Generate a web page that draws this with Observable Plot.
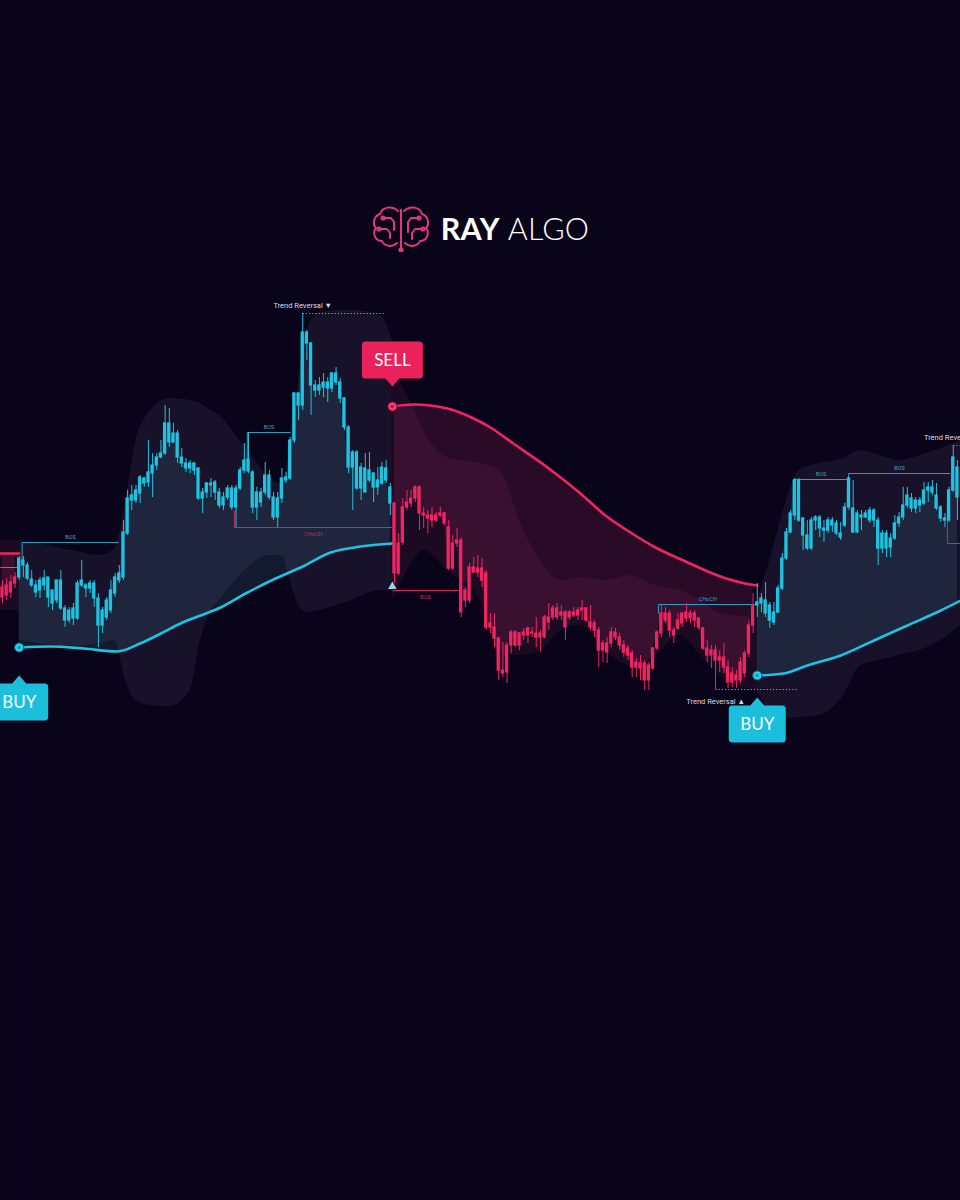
<!DOCTYPE html>
<html>
<head>
<meta charset="utf-8">
<script src="https://cdn.jsdelivr.net/npm/d3@7"></script>
<script src="https://cdn.jsdelivr.net/npm/@observablehq/plot@0.6"></script>
<style>
  html, body { margin: 0; padding: 0; background: #090419; overflow: hidden; }
  #header { height: 260px; position: relative; }
  #logo { position: absolute; top: 204px; left: 0; width: 960px; display: flex; justify-content: center; align-items: center; gap: 10px; }
  #logo .word { font-family: Lato, "Open Sans", sans-serif; font-size: 30.5px; color: #ffffff; line-height: 1; letter-spacing: 0.2px; margin-top: 1px; }
  #logo .b { font-weight: 700; }
  #logo .l { font-weight: 300; }
</style>
</head>
<body>
<div id="header">
  <div id="logo">
    <svg width="60" height="48" viewBox="0 0 60 48" fill="none" stroke="#e2387c" stroke-width="2" stroke-linecap="round" stroke-linejoin="round">
      <path d="M27 7 C21 1 11 3 9 10 C3 12 1 20 5 24 C1 29 4 37 11 37 C13 42 21 44 26 39"/>
      <path d="M33 7 C39 1 49 3 51 10 C57 12 59 20 55 24 C59 29 56 37 49 37 C47 42 39 44 34 39"/>
      <path d="M30 6 V46"/>
      <path d="M13 14 H20 L23 18 V26"/><circle cx="12" cy="14" r="1.6"/>
      <path d="M9 25 H16 L19 29 V34"/><circle cx="8" cy="25" r="1.6"/>
      <path d="M47 14 H40 L37 18 V28"/><circle cx="48" cy="14" r="1.6"/>
      <path d="M51 25 H44 L41 29 V35"/><circle cx="52" cy="25" r="1.6"/>
      <circle cx="30" cy="46" r="1.6"/>
    </svg>
    <div class="word"><span class="b">RAY</span> <span class="l">ALGO</span></div>
  </div>
</div>
<div id="chart"></div>
<script>
// ---------------- DATA (price units) ----------------
const opens = [
403,405,408,417,423,440,435,421,415,410,
415,423,410,400,420,392,380,382,382,415,
415,412,417,402,375,383,390,407,420,423,
467,500,500,507,522,518,527,535,543,547,
577,558,567,543,537,532,537,532,502,508,
517,518,508,495,503,512,493,512,530,529,
528,493,508,508,525,503,483,502,520,522,
560,607,595,668,657,615,610,613,618,612,
627,618,602,573,533,548,512,532,520,527,
513,517,532,513,497,427,458,493,497,502,
513,487,485,485,480,485,487,473,432,457,
460,400,400,433,428,432,427,373,373,362,
330,328,355,368,355,365,365,368,367,363,
363,383,383,392,388,388,383,388,385,390,
392,378,377,370,350,357,357,368,363,355,
352,347,333,337,337,320,332,352,367,387,
387,370,372,377,382,387,387,382,372,352,
345,350,340,343,333,318,325,320,327,347,
375,395,397,400,395,378,388,412,442,468,
485,520,482,465,452,480,483,472,470,480,
477,467,475,493,492,468,485,483,490,480,
480,452,467,453,462,477,483,495,502,492,
500,497,510,513,505,493,482,480,510,533];
const closes = [
413,415,418,423,442,435,422,415,408,420,
422,403,397,420,392,380,390,392,417,420,
412,417,402,375,390,400,410,423,427,468,
502,505,510,523,517,528,535,543,547,577,
558,567,543,537,532,537,530,502,508,517,
515,508,495,503,512,493,512,530,540,541,
493,508,498,525,503,483,502,522,523,560,
607,595,668,657,615,610,615,618,612,627,
618,602,573,533,548,512,533,508,530,513,
520,533,520,497,427,457,493,498,502,513,
487,485,482,480,485,487,477,432,457,460,
388,410,433,428,432,420,373,377,362,330,
327,355,368,355,367,368,372,367,363,367,
383,378,392,383,385,373,388,385,390,392,
380,373,370,350,357,348,368,363,355,348,
345,333,338,332,320,335,352,368,387,380,
370,365,380,387,388,382,380,373,352,345,
350,340,343,333,318,327,320,338,347,375,
395,398,402,387,380,388,412,442,468,487,
520,480,465,452,480,483,472,470,480,475,
467,463,493,522,468,487,483,487,480,490,
452,467,452,462,477,483,495,505,492,500,
495,510,513,508,492,482,480,510,543,503];
const highs = [
420,422,425,428,444,444,438,430,420,423,
430,423,410,420,430,395,393,397,420,440,
417,420,420,407,393,403,420,427,435,480,
510,515,515,525,523,560,547,547,560,595,
592,577,570,552,542,540,538,533,512,518,
522,520,512,508,515,515,515,533,557,568,
530,513,512,538,530,508,508,532,528,563,
608,608,687,670,658,620,623,627,623,628,
633,622,603,575,550,550,537,547,548,528,
533,538,540,517,498,467,502,510,510,515,
515,493,490,493,488,493,488,480,465,472,
463,413,437,443,445,442,430,387,387,363,
358,358,370,370,368,372,373,373,383,370,
385,397,395,397,395,390,390,393,393,400,
393,395,380,373,360,363,373,372,367,360,
355,350,342,345,340,338,353,370,395,393,
390,373,387,388,397,390,390,383,373,360,
355,355,350,357,340,333,330,343,350,380,
407,417,407,418,398,398,415,447,472,490,
522,522,483,480,483,485,485,480,483,483,
480,478,497,523,520,490,490,490,493,492,
483,470,470,467,485,488,513,513,507,503,
503,518,518,520,517,495,487,513,555,540];
const lows = [
397,400,402,412,420,423,420,413,403,402,
410,393,390,397,390,373,377,375,380,413,
403,407,393,353,367,380,387,403,417,420,
465,490,497,497,513,513,503,530,542,545,
553,557,537,533,528,527,525,500,487,502,
503,500,492,490,500,490,473,510,527,527,
487,480,493,505,500,480,473,497,517,520,
557,580,590,640,585,603,605,603,598,608,
615,597,570,527,490,510,500,508,518,498,
505,515,517,485,417,425,455,490,493,498,
470,472,467,473,478,483,475,430,430,453,
383,393,397,427,423,413,370,367,353,320,
323,317,347,353,350,360,357,363,353,348,
362,370,380,380,380,360,380,383,380,380,
378,370,363,333,338,337,353,360,350,343,
340,323,323,320,310,310,330,350,363,377,
363,357,370,373,378,377,373,370,350,338,
332,311,328,327,312,313,312,317,323,343,
367,383,388,383,372,375,387,410,440,467,
480,478,450,450,450,470,463,458,467,468,
465,460,473,490,467,467,470,482,477,473,
435,447,443,443,460,473,480,492,488,487,
488,495,498,505,490,478,473,478,508,480];

// trend regimes (first candle of each regime)
const regimeStart = [0, 4, 94, 181];
const regimeTrend = ["bear", "bull", "bear", "bull"];

// trailing trend lines (candle index, price, segment)
const trailIdx = [-0.5, 4,
  4, 11.5, 19.4, 27.6, 33, 38, 42.7, 47.5, 52.3, 58.3, 65.5, 71.5, 78.7, 85.9, 93.5,
  93.5, 98.6, 106.7, 113, 117, 122.5, 130.7, 138.6, 144.6, 150.6, 156.6, 163.3, 172.2, 177, 181,
  181, 187.3, 193, 201, 209, 217, 225, 229.8];
const trailVal = [447, 447,
  353, 354, 352, 349, 357, 367, 377, 385, 393, 407, 422, 433, 448, 454, 457,
  594, 596, 592, 582, 573, 557, 533, 507, 485, 468, 453, 440, 424, 418, 415,
  325, 327, 335, 345, 360, 375, 390, 400];
const trailSeg = [0, 0,
  1, 1, 1, 1, 1, 1, 1, 1, 1, 1, 1, 1, 1, 1, 1,
  2, 2, 2, 2, 2, 2, 2, 2, 2, 2, 2, 2, 2, 2, 2,
  3, 3, 3, 3, 3, 3, 3, 3];

// volatility band (upper / lower), per segment
const bandIdx = [-0.5, 4,
  4, 9, 14, 19, 23.5, 27, 29.5, 32, 35.5, 40, 45, 47.5, 50, 52, 57, 61, 64, 67, 69, 71, 73, 76, 83.5, 90.6, 93.5,
  93.5, 98.6, 101, 106.7, 114.6, 119.4, 124, 129, 134, 138.6, 144.6, 150.6, 156.6, 162.6, 167.4, 172.2, 181,
  181, 184, 188, 191, 196, 201.7, 205.8, 210.5, 215, 220, 225, 229.8];
const bandUpper = [460, 460,
  460, 457, 452, 448, 445, 452, 500, 560, 590, 602, 600, 597, 590, 585, 560, 538, 522, 517, 550, 620, 670, 688, 690, 685, 660,
  630, 593, 570, 543, 537, 530, 480, 440, 420, 423, 420, 425, 415, 410, 400, 387, 383,
  400, 440, 500, 530, 537, 542, 550, 545, 540, 545, 552, 560];
const bandLower = [390, 390,
  360, 357, 355, 355, 357, 360, 320, 300, 295, 294, 310, 360, 390, 400, 425, 440, 445, 445, 420, 395, 388, 390, 400, 410, 410,
  400, 440, 450, 430, 400, 345, 345, 350, 370, 375, 350, 335, 345, 365, 345, 325, 310,
  310, 290, 282, 283, 285, 305, 335, 340, 345, 350, 360, 375];
const bandSeg = [0, 0,
  1, 1, 1, 1, 1, 1, 1, 1, 1, 1, 1, 1, 1, 1, 1, 1, 1, 1, 1, 1, 1, 1, 1, 1, 1,
  2, 2, 2, 2, 2, 2, 2, 2, 2, 2, 2, 2, 2, 2, 2, 2, 2,
  3, 3, 3, 3, 3, 3, 3, 3, 3, 3, 3, 3];

// market structure levels
const structX1 = [-0.5, 4.7, 58.7, 55.6, 93.5, 157.3, 189.7, 202.9, 226.6];
const structX2 = [3.8, 27.9, 69.1, 93.5, 109.4, 181, 202.9, 227.3, 231];
const structLevel = [433, 458, 568, 473, 410, 396, 521, 527, 457];
const structAnchor = [433, 440, 540, 490, 410, 387, 521, 521, 480];
const structTrend = ["bull", "bull", "bull", "bear", "bear", "bull", "bull", "bull", "bear"];
const structLabel = ["", "BOS", "BOS", "CHoCH", "BOS", "CHoCH", "BOS", "BOS", ""];

// trend reversal swing points
const reversalIdx = [72, 171, 228];
const reversalKind = ["top", "bottom", "top"];

// ---------------- STYLE ----------------
const bg = "#090419";
const cyan = "#1fc3e0", pink = "#ef2562";
const cyanLine = "#2a9fba", pinkLine = "#d2245d";
const slate = "#111a2f", maroon = "#290a27";
const labelGap = [28, -20, 22]; // px from trail start to callout tip
const calloutW = [58, 61, 57], calloutH = 37, pointer = 8;

// ---------------- BUILD ----------------
const regimeOf = i => d3.bisectRight(regimeStart, i) - 1;
const candles = opens.map((o, i) => ({i, o, c: closes[i], h: highs[i], l: lows[i], r: regimeOf(i), t: regimeTrend[regimeOf(i)]}));
const trail = trailIdx.map((i, k) => ({i, v: trailVal[k], seg: trailSeg[k], t: regimeTrend[trailSeg[k]]}));
const band = bandIdx.map((i, k) => ({i, u: bandUpper[k], l: bandLower[k], seg: bandSeg[k], t: regimeTrend[bandSeg[k]]}));
const struct = structX1.map((x1, k) => ({x1, x2: structX2[k], y: structLevel[k], a: structAnchor[k], t: structTrend[k], label: structLabel[k], xm: (x1 + structX2[k]) / 2}));
const reversals = reversalIdx.map((i, k) => ({i, kind: reversalKind[k], v: reversalKind[k] === "top" ? highs[i] : lows[i]}));
const starts = trail.filter((d, k) => d.seg > 0 && (k === 0 || trail[k - 1].seg !== d.seg));
const signals = starts.map((d, k) => ({...d, side: d.t === "bull" ? "BUY" : "SELL", gap: labelGap[k], w: calloutW[k]}));

const yDomain = [-200, 740];
const [yBottom, yTop] = yDomain;
const bull = d => d.t === "bull", bear = d => d.t === "bear";

function callout(w, h, gap, p) {
  const s = Math.sign(gap), hw = w / 2, r = 3.5, pw = 7;
  const near = gap + s * p, far = near + s * h;
  return {
    draw(ctx) {
      ctx.moveTo(0, gap);
      ctx.lineTo(pw, near);
      ctx.lineTo(hw - r, near);
      ctx.arcTo(hw, near, hw, near + s * r, r);
      ctx.lineTo(hw, far - s * r);
      ctx.arcTo(hw, far, hw - r, far, r);
      ctx.lineTo(-hw + r, far);
      ctx.arcTo(-hw, far, -hw, far - s * r, r);
      ctx.lineTo(-hw, near + s * r);
      ctx.arcTo(-hw, near, -hw + r, near, r);
      ctx.lineTo(-pw, near);
      ctx.closePath();
    }
  };
}

const signalMarks = signals.flatMap(sg => {
  const s = Math.sign(sg.gap);
  const col = sg.side === "BUY" ? "#1bbfdb" : "#ea215b";
  return [
    Plot.dot([sg], {x: "i", y: "v", symbol: callout(sg.w, calloutH, sg.gap, pointer), r: 10, fill: col, stroke: "none"}),
    Plot.text([sg], {x: "i", y: "v", text: "side", dy: sg.gap + s * (pointer + calloutH / 2) + 1, fill: "#ffffff", fontSize: 17, fontFamily: "Lato, 'Open Sans', sans-serif", fontWeight: 400})
  ];
});

const sellIdx = signals.find(d => d.side === "SELL");
const firstBear = candles[regimeStart[2]];

const chart = Plot.plot({
  width: 960,
  height: 940,
  margin: 0,
  x: {domain: [-0.48, 229.74], axis: null},
  y: {domain: yDomain, axis: null},
  style: {background: bg, overflow: "hidden"},
  marks: [
    // price-to-trail fills
    Plot.areaY(candles.filter(bear), {x: "i", y1: "c", y2: yTop, z: "r", fill: maroon}),
    Plot.areaY(candles.filter(bull), {x: "i", y1: "c", y2: yBottom, z: "r", fill: slate}),
    Plot.areaY(trail.filter(bear), {x: "i", y1: "v", y2: yTop, z: "seg", fill: bg, curve: "monotone-x"}),
    Plot.areaY(trail.filter(bull), {x: "i", y1: "v", y2: yBottom, z: "seg", fill: bg, curve: "monotone-x"}),
    // volatility bands
    Plot.areaY(band.filter(bull), {x: "i", y1: "l", y2: "u", z: "seg", fill: "#bdb8ea", fillOpacity: 0.08, curve: "monotone-x"}),
    Plot.areaY(band.filter(bear), {x: "i", y1: "l", y2: "u", z: "seg", fill: "#e0508a", fillOpacity: 0.09, curve: "monotone-x"}),
    // structure
    Plot.link(struct.filter(bull), {x1: "x1", x2: "x2", y1: "y", y2: "y", stroke: cyanLine, strokeWidth: 1}),
    Plot.link(struct.filter(bear), {x1: "x1", x2: "x2", y1: "y", y2: "y", stroke: pinkLine, strokeWidth: 1}),
    Plot.link(struct.filter(bull), {x1: "x1", x2: "x1", y1: "y", y2: "a", stroke: cyanLine, strokeWidth: 1}),
    Plot.link(struct.filter(bear), {x1: "x1", x2: "x1", y1: "y", y2: "a", stroke: pinkLine, strokeWidth: 1}),
    Plot.text(struct.filter(d => bull(d) && d.label), {x: "xm", y: "y", text: "label", dy: -4, lineAnchor: "bottom", fontSize: 5.5, fill: "#3ba6c0", fontFamily: "Roboto, sans-serif"}),
    Plot.text(struct.filter(d => bear(d) && d.label), {x: "xm", y: "y", text: "label", dy: 5, lineAnchor: "top", fontSize: 5.5, fill: "#c8285e", fontFamily: "Roboto, sans-serif"}),
    // trend reversal
    Plot.link(reversals, {x1: "i", x2: d => d.i + 19.7, y1: "v", y2: "v", stroke: "#9a98a8", strokeWidth: 1, strokeDasharray: "1.2,2"}),
    Plot.text(reversals.filter(d => d.kind === "top"), {x: "i", y: "v", text: () => "Trend Reversal ▼", dy: -6, lineAnchor: "bottom", fontSize: 7.5, fill: "#dcdce4", fontFamily: "Roboto, sans-serif"}),
    Plot.text(reversals.filter(d => d.kind === "bottom"), {x: "i", y: "v", text: () => "Trend Reversal ▲", dy: 9, lineAnchor: "top", fontSize: 7.5, fill: "#dcdce4", fontFamily: "Roboto, sans-serif"}),
    // trailing lines
    Plot.line(trail.filter(bull), {x: "i", y: "v", z: "seg", stroke: cyan, strokeWidth: 2.6, curve: "monotone-x"}),
    Plot.line(trail.filter(bear), {x: "i", y: "v", z: "seg", stroke: pink, strokeWidth: 2.6, curve: "monotone-x"}),
    // candles
    Plot.ruleX(candles.filter(bull), {x: "i", y1: "l", y2: "h", stroke: cyan, strokeWidth: 1}),
    Plot.ruleX(candles.filter(bear), {x: "i", y1: "l", y2: "h", stroke: pink, strokeWidth: 1}),
    Plot.rect(candles.filter(bull), {x1: d => d.i - 0.4, x2: d => d.i + 0.4, y1: "o", y2: "c", fill: cyan, insetTop: -0.6, insetBottom: -0.6}),
    Plot.rect(candles.filter(bear), {x1: d => d.i - 0.4, x2: d => d.i + 0.4, y1: "o", y2: "c", fill: pink, insetTop: -0.6, insetBottom: -0.6}),
    // trail start dots
    Plot.dot(starts.filter(bull), {x: "i", y: "v", r: 4.6, fill: "#28d0ec", stroke: "#0b5566", strokeWidth: 1}),
    Plot.dot(starts.filter(bull), {x: "i", y: "v", r: 1.8, fill: "#109ab5"}),
    Plot.dot(starts.filter(bear), {x: "i", y: "v", r: 4.6, fill: "#ff3a74", stroke: "#6a0f2e", strokeWidth: 1}),
    Plot.dot(starts.filter(bear), {x: "i", y: "v", r: 1.8, fill: "#b81a4a"}),
    // reversal triangle at the sell bar low
    Plot.dot([{i: sellIdx.i, v: firstBear.l}], {x: "i", y: "v", symbol: "triangle", r: 3.2, dy: 3, fill: "#8adbe9"}),
    // BUY / SELL callouts
    ...signalMarks
  ]
});
document.getElementById("chart").append(chart);
</script>
</body>
</html>
